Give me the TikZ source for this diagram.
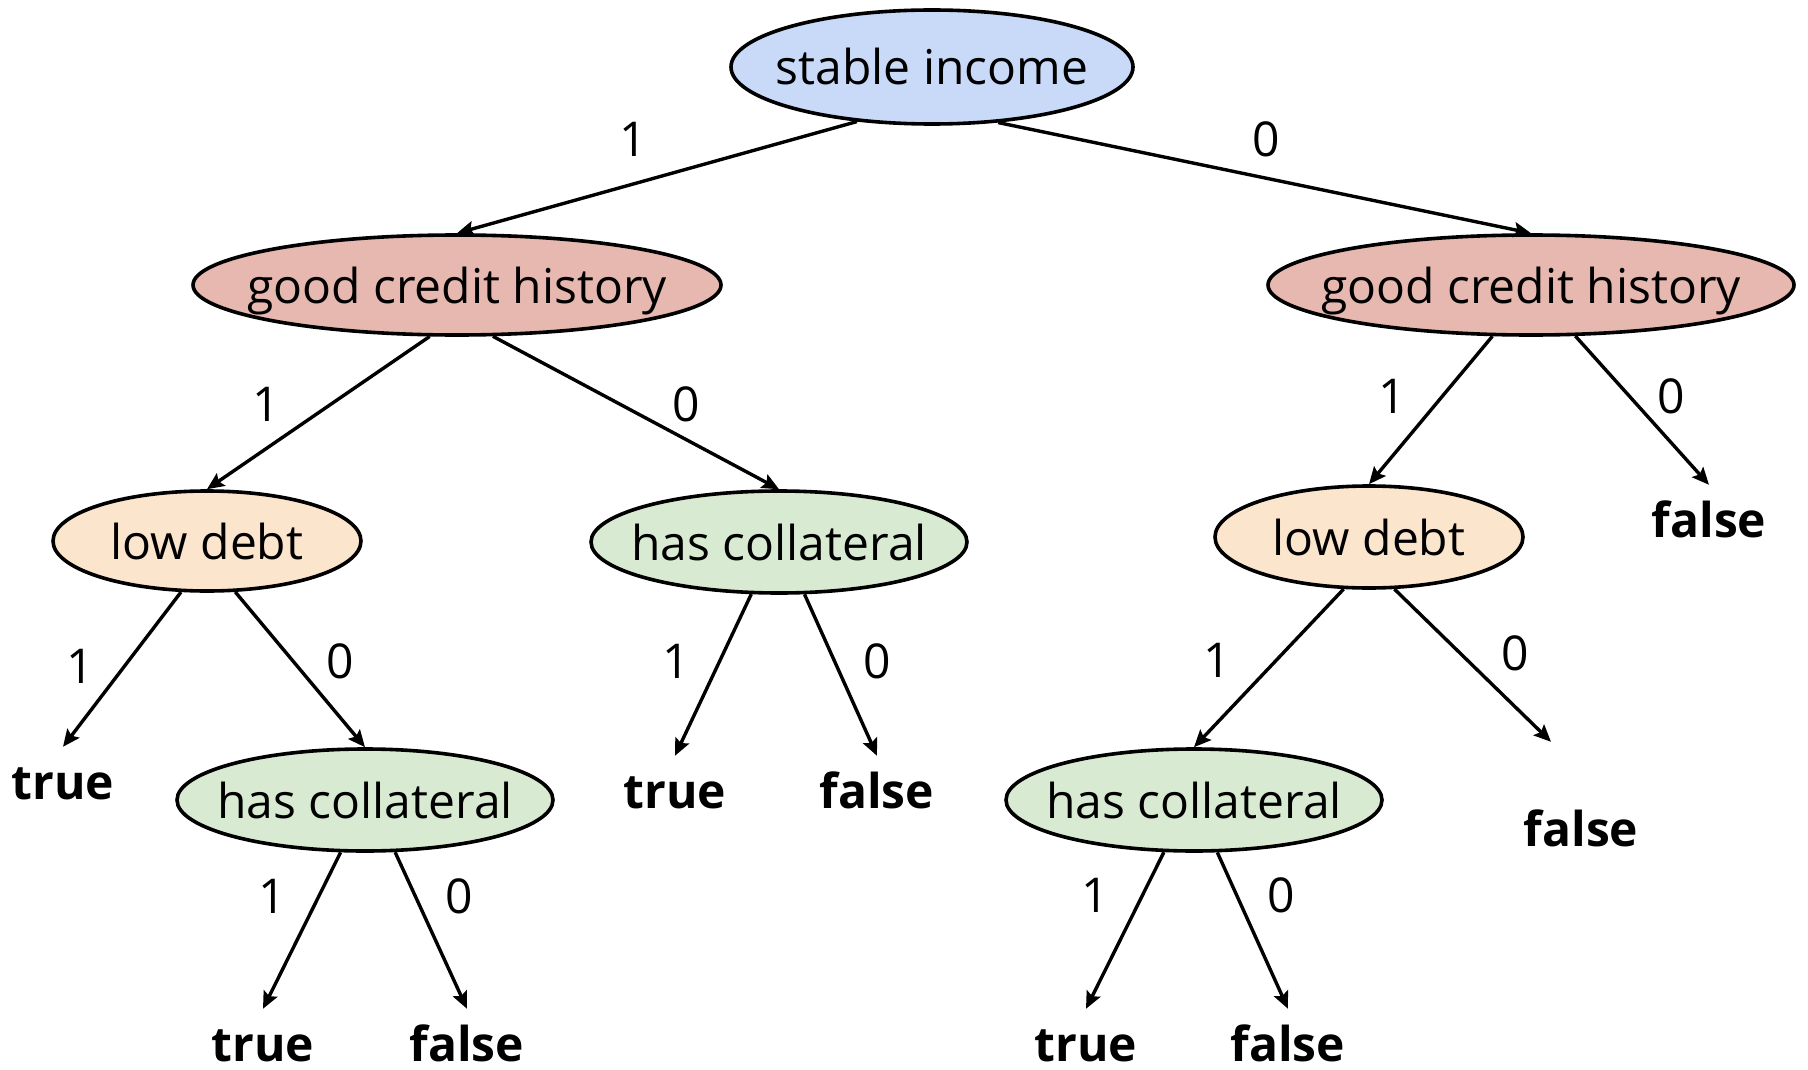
\documentclass[tikz,border=0pt]{standalone}
\usepackage{fontspec}
\setmainfont{Open Sans}
\usetikzlibrary{shapes.geometric,arrows.meta}
\definecolor{cblue}{HTML}{C9DAF8}
\definecolor{cred}{HTML}{E6B8AF}
\definecolor{corange}{HTML}{FCE5CD}
\definecolor{cgreen}{HTML}{D9EAD3}
\begin{document}
\begin{tikzpicture}[x=1pt,y=-1pt,
  dnode/.style={ellipse, draw=black, line width=3.6pt, inner sep=0pt, text height=36pt, text depth=0pt, font=\fontsize{48}{58}\selectfont},
  leaf/.style={inner xsep=0pt, inner ysep=16pt, text height=36pt, text depth=0pt, anchor=base, font=\fontsize{48}{58}\selectfont\bfseries},
  lbl/.style={inner sep=0pt, text height=34pt, text depth=0pt, font=\fontsize{48}{58}\selectfont},
  arr/.style={line width=3.4pt, -{Stealth[length=17pt,width=15pt,inset=3pt]}}
]
\fill[white] (0,0) rectangle (1808,1070);
\useasboundingbox (0,0) rectangle (1808,1070);

\node[dnode, fill=cblue, minimum width=402pt, minimum height=114pt] (si) at (932,67) {\makebox[0pt]{stable income}};
\node[dnode, fill=cred, minimum width=528pt, minimum height=100pt] (lgch) at (457,285) {\makebox[0pt]{good credit history}};
\node[dnode, fill=cred, minimum width=526pt, minimum height=100pt] (rgch) at (1531,285) {\makebox[0pt]{good credit history}};
\node[dnode, fill=corange, minimum width=308pt, minimum height=100pt] (ldL) at (207,541) {\makebox[0pt]{low debt}};
\node[dnode, fill=cgreen, minimum width=376pt, minimum height=102pt] (hcM) at (779,542) {\makebox[0pt]{has collateral}};
\node[dnode, fill=corange, minimum width=308pt, minimum height=102pt] (ldR) at (1369,537) {\makebox[0pt]{low debt}};
\node[dnode, fill=cgreen, minimum width=376pt, minimum height=102pt] (hcL) at (365,800) {\makebox[0pt]{has collateral}};
\node[dnode, fill=cgreen, minimum width=376pt, minimum height=102pt] (hcR) at (1194,800) {\makebox[0pt]{has collateral}};

\node[leaf] (t1) at (63,799) {true};
\node[leaf] (t2) at (263,1061) {true};
\node[leaf] (f2) at (467,1061) {false};
\node[leaf] (t3) at (675,808) {true};
\node[leaf] (f3) at (877,808) {false};
\node[leaf] (f1) at (1709,537) {false};
\node[leaf] (f4) at (1581,846) {false};
\node[leaf] (t4) at (1086,1061) {true};
\node[leaf] (f5) at (1288,1061) {false};

\draw[arr] (si.216) -- (lgch.north);
\draw[arr] (si.320) -- (rgch.north);
\draw[arr] (lgch.242) -- (ldL.north);
\draw[arr] (lgch.305) -- (hcM.north);
\draw[arr] (ldL.243) -- (t1.north);
\draw[arr] (ldL.299) -- (hcL.north);
\draw[arr] (hcM.242) -- (t3.north);
\draw[arr] (hcM.296) -- (f3.north);
\draw[arr] (hcL.245) -- (t2.north);
\draw[arr] (hcL.300) -- (f2.north);
\draw[arr] (rgch.233) -- (ldR.north);
\draw[arr] (rgch.311) -- (f1.north);
\draw[arr] (ldR.244) -- (hcR.north);
\draw[arr] (ldR.296) -- ([shift={(-30pt,52pt)}]f4.north);
\draw[arr] (hcR.240) -- (t4.north);
\draw[arr] (hcR.294) -- (f5.north);

\node[lbl] (l1) at (633,140) {1};
\node[lbl] (l2) at (1266,140) {0};
\node[lbl] (l3) at (266,404) {1};
\node[lbl] (l4) at (686,404) {0};
\node[lbl] (l5) at (80,666) {1};
\node[lbl] (l6) at (340,661) {0};
\node[lbl] (l7) at (676,661) {1};
\node[lbl] (l8) at (877,661) {0};
\node[lbl] (l9) at (272,896) {1};
\node[lbl] (l10) at (459,896) {0};
\node[lbl] (l11) at (1392,396) {1};
\node[lbl] (l12) at (1671,396) {0};
\node[lbl] (l13) at (1217,660) {1};
\node[lbl] (l14) at (1515,653) {0};
\node[lbl] (l15) at (1095,895) {1};
\node[lbl] (l16) at (1281,895) {0};
\end{tikzpicture}
\end{document}
